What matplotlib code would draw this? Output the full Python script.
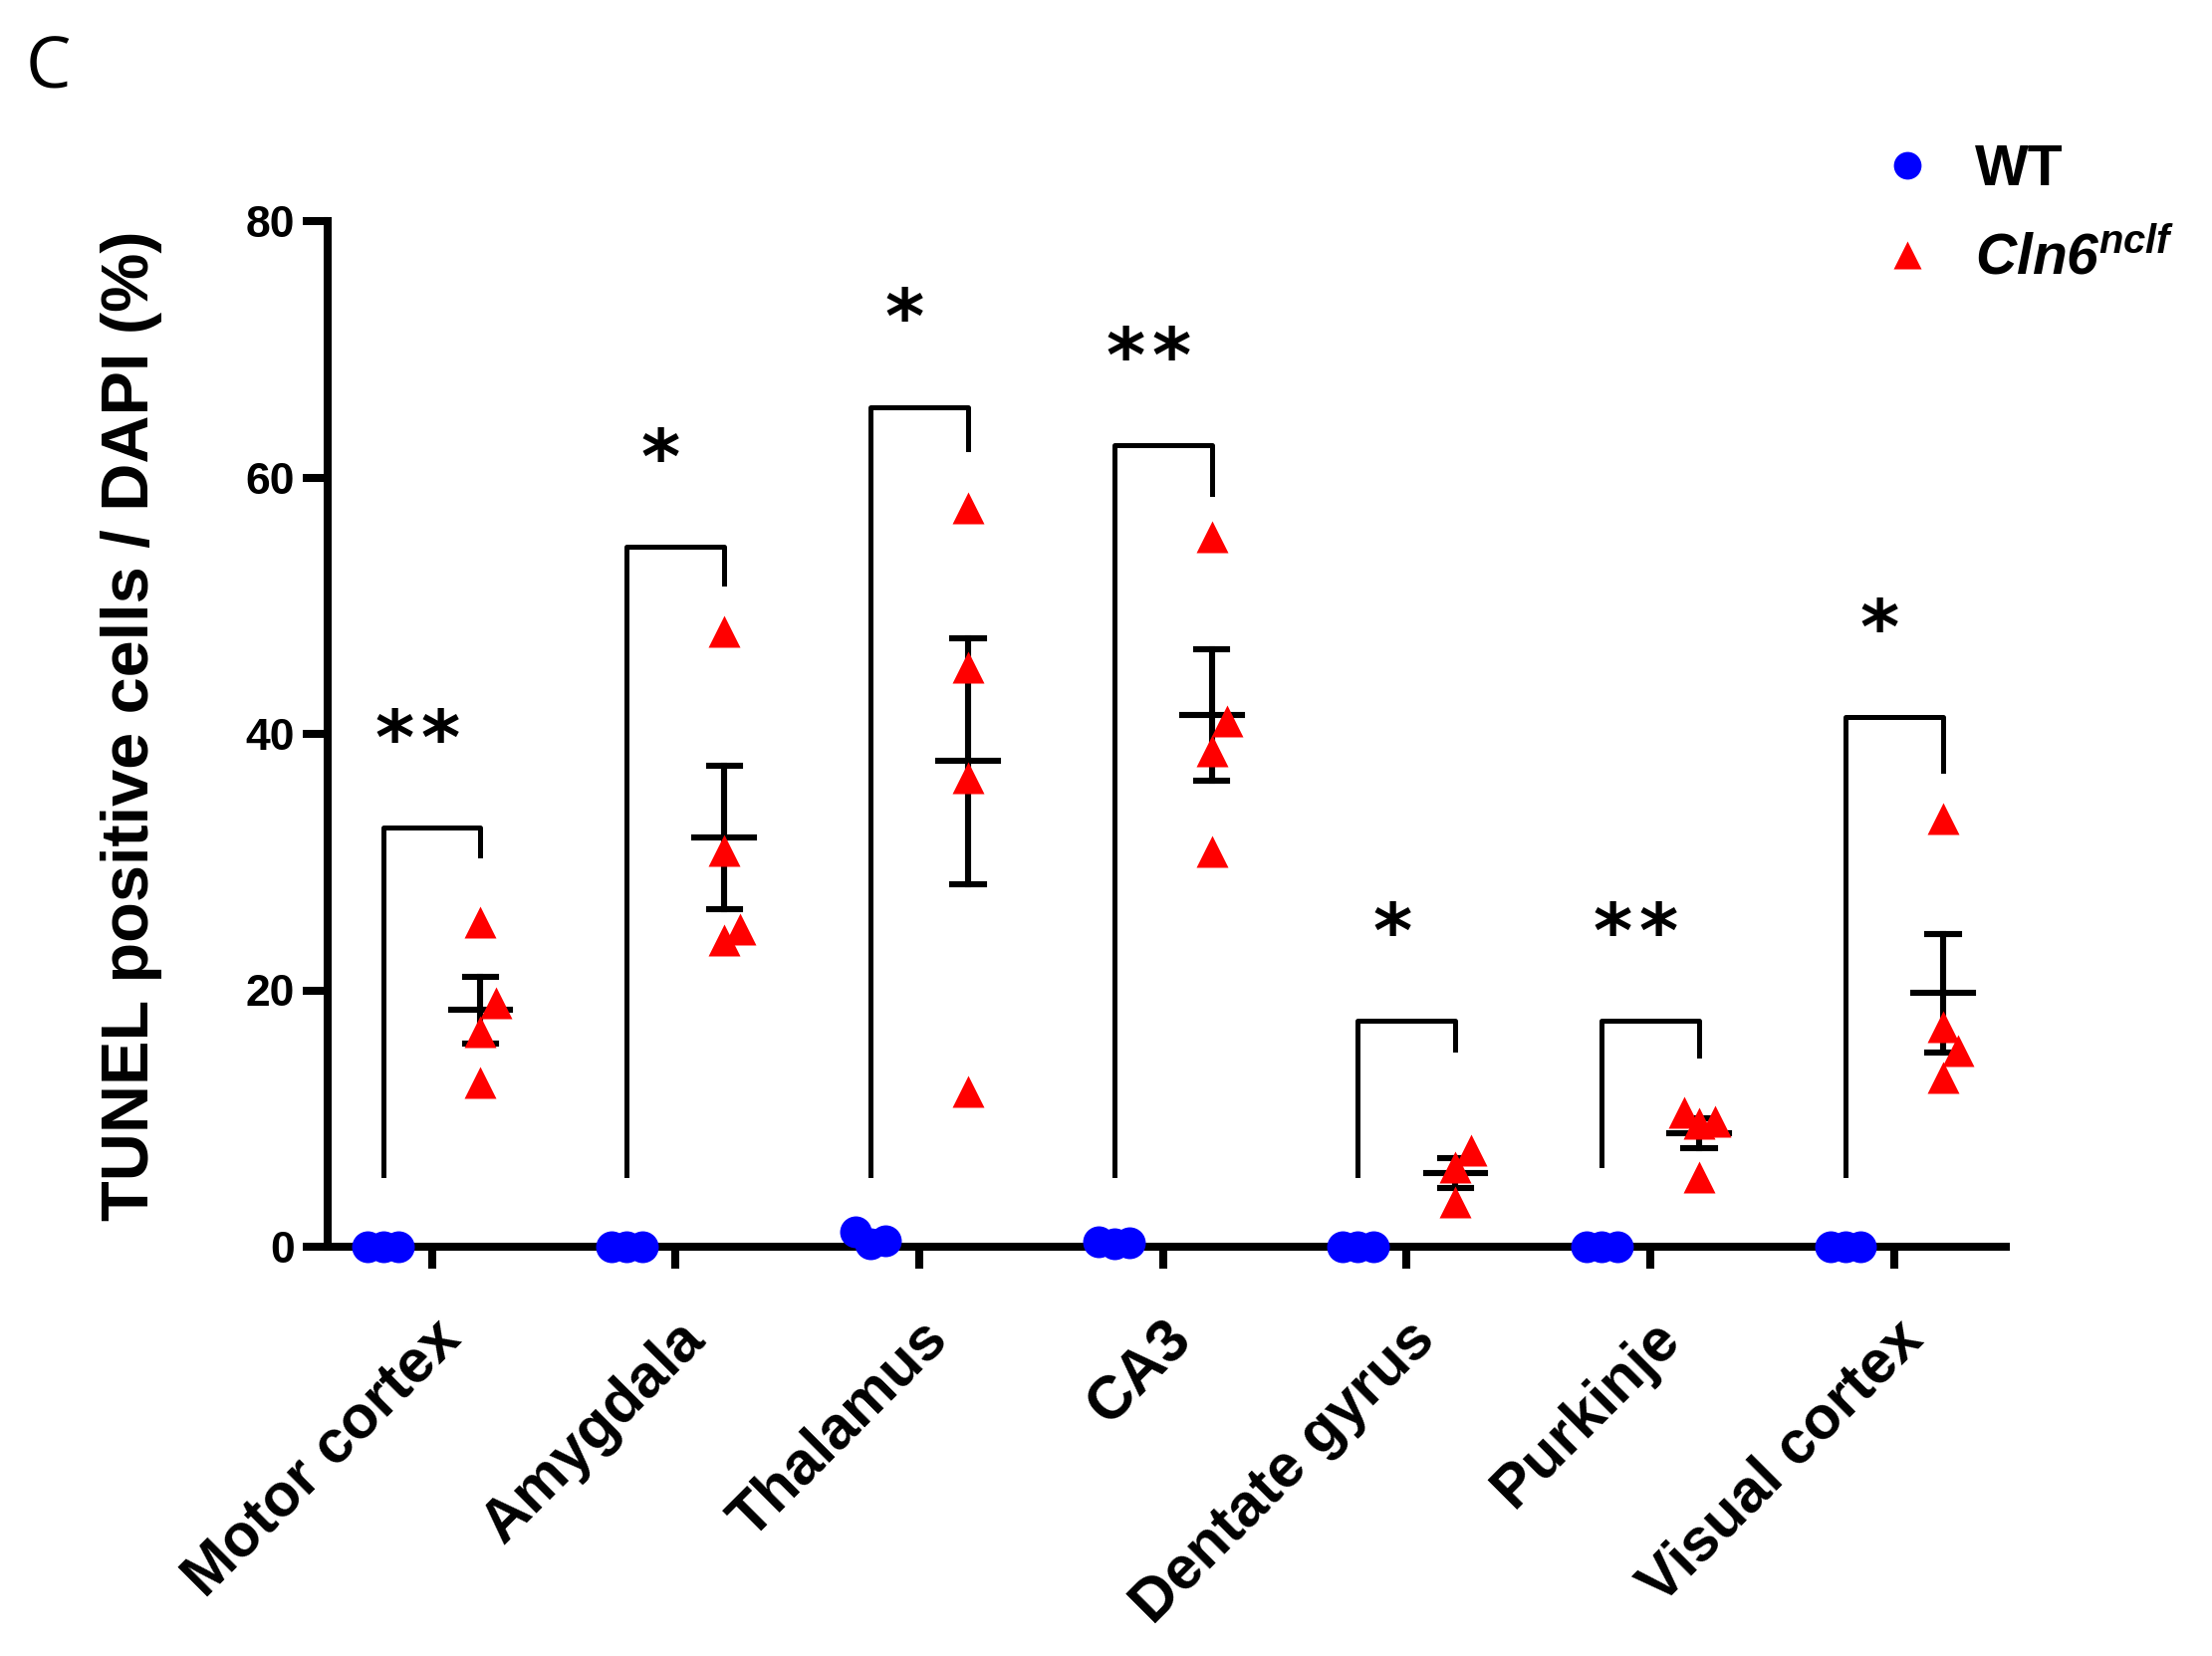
import matplotlib
matplotlib.use("Agg")
import matplotlib.pyplot as plt
from matplotlib.lines import Line2D
import numpy as np

plt.rcParams['font.family'] = ['Liberation Sans', 'DejaVu Sans']
plt.rcParams['font.weight'] = 'bold'
plt.rcParams['mathtext.fontset'] = 'custom'
plt.rcParams['mathtext.bfit'] = 'Liberation Sans:italic:bold'
plt.rcParams['mathtext.bf'] = 'Liberation Sans:bold'

regions = ['Motor cortex', 'Amygdala', 'Thalamus', 'CA3',
           'Dentate gyrus', 'Purkinje', 'Visual cortex']

# TUNEL+ / DAPI (%) per animal
wt = [
    [0.0, 0.0, 0.0],
    [0.0, 0.0, 0.0],
    [0.2, 1.2, 0.5],
    [0.2, 0.4, 0.3],
    [0.0, 0.0, 0.0],
    [0.0, 0.0, 0.0],
    [0.0, 0.0, 0.0],
]
cln6 = [
    [25.3, 19.0, 16.8, 12.8],
    [48.0, 30.9, 24.8, 23.9],
    [57.6, 45.2, 36.6, 12.1],
    [55.4, 41.0, 38.7, 30.8],
    [7.5, 6.2, 3.5],
    [10.5, 9.6, 9.8, 5.4],
    [33.4, 17.2, 15.3, 13.2],
]

# significance brackets
stars = ['**', '*', '*', '**', '*', '**', '*']
bracket_top = [32.7, 54.6, 65.5, 62.5, 17.6, 17.6, 41.3]
bracket_right_end = [30.5, 51.7, 62.2, 58.7, 15.4, 14.9, 37.1]
bracket_left_end = [5.6, 5.6, 5.6, 5.6, 5.6, 6.4, 5.6]

W, H, DPI = 2221, 1663, 200
fig = plt.figure(figsize=(W / DPI, H / DPI), dpi=DPI)
ax = fig.add_axes([329 / W, 1 - 1252 / H, (2014 - 329) / W, (1252 - 222) / H])

off = 0.2      # group offset from tick
step = 0.063   # horizontal jitter step
msize = 11.5


def spread(vals, thr=2.5):
    # column scatter: a point that lands on a close one moves one slot aside
    vals = np.asarray(vals, float)
    dx = np.zeros(len(vals))
    placed = []
    for k in np.argsort(vals, kind='stable'):
        for slot in [0, 1, -1, 2, -2]:
            if all(not (s == slot and abs(vals[k] - v) < thr) for v, s in placed):
                break
        placed.append((vals[k], slot))
        dx[k] = slot * step
    return dx


for i in range(len(regions)):
    w = np.array(wt[i])
    c = np.array(cln6[i])
    ax.plot(i - off + spread(w), w, 'o', color='#0000ff', ms=msize,
            mec='none', clip_on=False, zorder=5)
    ax.plot(i + off + spread(c), c, '^', color='#ff0000', ms=msize,
            mec='none', clip_on=False, zorder=5)

    m = c.mean()
    se = c.std(ddof=1) / np.sqrt(len(c))
    xc = i + off
    ax.plot([xc, xc], [m - se, m + se], color='black', lw=2.2, zorder=4)
    ax.plot([xc - 0.064, xc + 0.064], [m + se, m + se], color='black', lw=2.2, zorder=4)
    ax.plot([xc - 0.064, xc + 0.064], [m - se, m - se], color='black', lw=2.2, zorder=4)
    ax.plot([xc - 0.122, xc + 0.122], [m, m], color='black', lw=2.2, zorder=4)

    # bracket
    ax.plot([i - off, i - off, i + off, i + off],
            [bracket_left_end[i], bracket_top[i], bracket_top[i], bracket_right_end[i]],
            color='black', lw=1.8, zorder=3)
    n = len(stars[i])
    for j in range(n):
        ax.annotate('*', xy=(i - 0.06, bracket_top[i] + 6.6),
                    xytext=((j - (n - 1) / 2) * 16.5, 0), textcoords='offset points',
                    ha='center', va='center', fontsize=27, fontweight='bold',
                    family='DejaVu Sans')

ax.set_xlim(-0.427, 6.458)
ax.set_ylim(0, 80)
ax.set_yticks([0, 20, 40, 60, 80])
ax.set_xticks(range(len(regions)))
ax.set_xticklabels(regions, rotation=45, ha='right', va='top',
                   rotation_mode='anchor', fontsize=21.8, fontweight='bold')
ax.tick_params(axis='y', labelsize=16, width=2.9, length=9, pad=3)
ax.tick_params(axis='x', width=2.9, length=8, pad=15)
for s in ['top', 'right']:
    ax.spines[s].set_visible(False)
for s in ['left', 'bottom']:
    ax.spines[s].set_linewidth(2.9)
ax.set_ylabel('TUNEL positive cells / DAPI (%)', fontsize=24, fontweight='bold')
ax.yaxis.set_label_coords(-0.0985, 0.508)

handles = [
    Line2D([], [], marker='o', ls='none', color='#0000ff', mec='none', ms=10),
    Line2D([], [], marker='^', ls='none', color='#ff0000', mec='none', ms=10),
]
fig.legend(handles, ['WT', r'$\mathbfit{Cln6}^{\mathbfit{nclf}}$'],
           loc='upper left', bbox_to_anchor=(1835 / W, 1 - 93 / H),
           frameon=False, fontsize=20.5, handletextpad=0.7, labelspacing=0.58,
           handlelength=1.0)

fig.text(26 / W, 1 - 34 / H, 'C', fontsize=26, fontweight='normal',
         family='Open Sans', ha='left', va='top')

fig.savefig('out.png', dpi=DPI)
